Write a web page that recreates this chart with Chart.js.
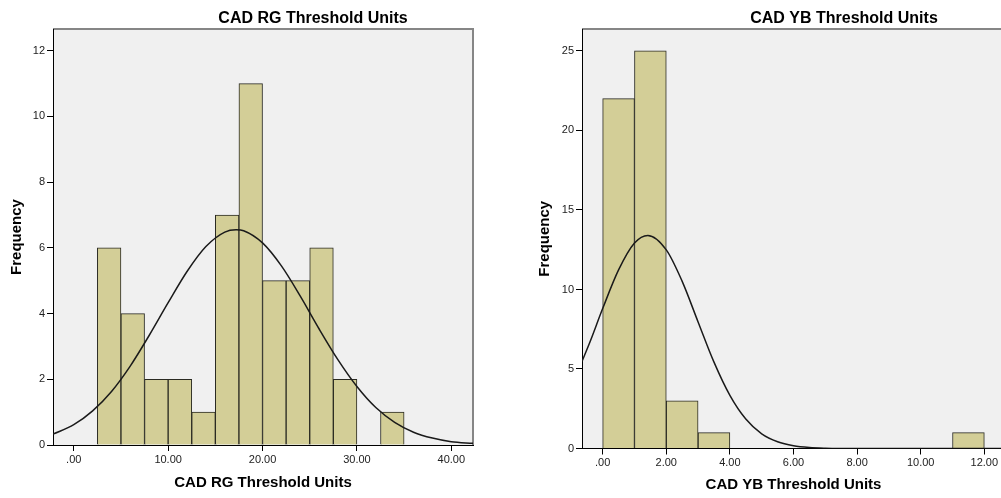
<!DOCTYPE html>
<html>
<head>
<meta charset="utf-8">
<script src="https://cdn.jsdelivr.net/npm/chart.js@4.4.1/dist/chart.umd.min.js"></script>
<style>
  html, body { margin: 0; padding: 0; background: #ffffff; width: 1001px; height: 498px; overflow: hidden; }
  #wrap { position: relative; width: 1001px; height: 498px; overflow: hidden; }
  #c1 { position: absolute; left: 0; top: 0; }
  #c2 { position: absolute; left: 529px; top: 0; }
</style>
</head>
<body>
<div id="wrap">
  <canvas id="c1" width="480" height="498"></canvas>
  <canvas id="c2" width="481" height="498"></canvas>
</div>
<script>
// ---------- Data: CAD RG Threshold Units ----------
const rgTitle = 'CAD RG Threshold Units';
const rgBinCenters = [3.75, 6.25, 8.75, 11.25, 13.75, 16.25, 18.75, 21.25, 23.75, 26.25, 28.75, 31.25, 33.75];
const rgCounts     = [6, 4, 2, 2, 1, 7, 11, 5, 5, 6, 2, 0, 1];
const rgCurveX = [-2.2, 0, 2, 4, 6, 8, 10, 12, 14, 16, 17.2, 18, 20, 22, 24, 26, 28, 30, 32, 34, 36, 38, 40, 42.3];
const rgCurveY = [0.33, 0.62, 1.04, 1.63, 2.41, 3.34, 4.33, 5.28, 6.04, 6.48, 6.55, 6.52, 6.15, 5.45, 4.53, 3.53, 2.59, 1.78, 1.14, 0.69, 0.39, 0.21, 0.10, 0.05];
const rgXTickValues = [0, 10, 20, 30, 40];
const rgXTickLabels = ['.00', '10.00', '20.00', '30.00', '40.00'];

// ---------- Data: CAD YB Threshold Units ----------
const ybTitle = 'CAD YB Threshold Units';
const ybBinCenters = [0.5, 1.5, 2.5, 3.5, 11.5];
const ybCounts     = [22, 25, 3, 1, 1];
const ybCurveX = [-0.65, -0.4, 0, 0.5, 1, 1.42, 2, 2.5, 3, 3.5, 4, 4.5, 5, 5.5, 6, 6.5, 7, 8, 12.65];
const ybCurveY = [5.48, 6.7, 8.80, 11.23, 12.92, 13.4, 12.49, 10.51, 7.96, 5.43, 3.34, 1.85, 0.92, 0.42, 0.17, 0.06, 0.02, 0, 0];
const ybXTickValues = [0, 2, 4, 6, 8, 10, 12];
const ybXTickLabels = ['.00', '2.00', '4.00', '6.00', '8.00', '10.00', '12.00'];

const yAxisTitle = 'Frequency';

// ---------- Styling ----------
const FONT = "'Liberation Sans', Arial, sans-serif";
const BAR_FILL = '#D3CE97';
const BAR_EDGE = '#2a2a22';
const PLOT_BG = '#F0F0F0';

const plotFrame = {
  id: 'plotFrame',
  beforeDraw(chart) {
    const {ctx, chartArea: a} = chart;
    ctx.save();
    ctx.fillStyle = PLOT_BG;
    ctx.fillRect(a.left, a.top, a.right - a.left, a.bottom - a.top);
    ctx.strokeStyle = '#868686';
    ctx.lineWidth = 2;
    ctx.beginPath();
    ctx.moveTo(a.left, a.top);
    ctx.lineTo(a.right, a.top);
    ctx.lineTo(a.right, a.bottom);
    ctx.stroke();
    ctx.restore();
  }
};

const topTitle = {
  id: 'topTitle',
  afterDraw(chart, args, opts) {
    const {ctx, chartArea: a} = chart;
    ctx.save();
    ctx.font = 'bold 16px ' + FONT;
    ctx.fillStyle = '#000';
    ctx.textAlign = 'center';
    ctx.textBaseline = 'alphabetic';
    ctx.fillText(opts.text, a.left + opts.offset, opts.baseline);
    ctx.restore();
  }
};

function makeChart(canvasId, cfg) {
  const bars = cfg.centers.map((c, i) => ({x: c, y: cfg.counts[i]}));
  const curve = cfg.curveX.map((c, i) => ({x: c, y: cfg.curveY[i]}));
  return new Chart(document.getElementById(canvasId), {
    type: 'bar',
    data: {
      datasets: [
        {
          type: 'line',
          data: curve,
          borderColor: '#1a1a1a',
          borderWidth: 1.5,
          pointRadius: 0,
          fill: false,
          cubicInterpolationMode: 'monotone',
          order: 1
        },
        {
          type: 'bar',
          data: bars,
          backgroundColor: BAR_FILL,
          borderColor: BAR_EDGE,
          borderWidth: 1,
          borderSkipped: 'start',
          barPercentage: 1,
          categoryPercentage: 1,
          order: 2
        }
      ]
    },
    options: {
      responsive: false,
      animation: false,
      events: [],
      layout: { padding: { top: 29, right: cfg.padRight, left: 0, bottom: 0 } },
      plugins: {
        legend: { display: false },
        tooltip: { enabled: false },
        title: { display: false },
        topTitle: { text: cfg.title, offset: cfg.titleOffset, baseline: 23 }
      },
      scales: {
        x: {
          type: 'linear',
          offset: false,
          min: cfg.xMin,
          max: cfg.xMax,
          afterFit: (s) => { s.height = cfg.xAxisHeight; },
          grid: { display: true, offset: false, drawOnChartArea: false, drawTicks: true, tickLength: 6, color: '#000', lineWidth: 1 },
          border: { display: true, color: '#000', width: 1 },
          ticks: {
            stepSize: cfg.xStep,
            includeBounds: false,
            autoSkip: false,
            maxRotation: 0,
            padding: 2,
            color: '#222',
            font: { family: FONT, size: 11 },
            callback: (v) => {
              const i = cfg.xTickValues.indexOf(v);
              return i >= 0 ? cfg.xTickLabels[i] : '';
            }
          },
          title: {
            display: true,
            text: cfg.title,
            color: '#000',
            font: { family: FONT, size: 15, weight: 'bold' },
            padding: { top: 0, bottom: cfg.xTitlePadBottom }
          }
        },
        y: {
          type: 'linear',
          min: 0,
          max: cfg.yMax,
          afterFit: (s) => { s.width = 53; },
          grid: { display: true, drawOnChartArea: false, drawTicks: true, tickLength: 6, color: '#000', lineWidth: 1 },
          border: { display: true, color: '#000', width: 1 },
          ticks: {
            stepSize: cfg.yStep,
            includeBounds: false,
            padding: 2,
            color: '#222',
            font: { family: FONT, size: 11 }
          },
          title: {
            display: true,
            text: yAxisTitle,
            color: '#000',
            font: { family: FONT, size: 15, weight: 'bold' },
            padding: { top: cfg.yTitlePadTop, bottom: 0 }
          }
        }
      }
    },
    plugins: [plotFrame, topTitle]
  });
}

makeChart('c1', {
  title: rgTitle, centers: rgBinCenters, counts: rgCounts,
  curveX: rgCurveX, curveY: rgCurveY,
  xTickValues: rgXTickValues, xTickLabels: rgXTickLabels,
  xMin: -2.2, xMax: 42.3, xStep: 10, yMax: 12.66, yStep: 2,
  padRight: 7, xAxisHeight: 53, xTitlePadBottom: 6, yTitlePadTop: 8, titleOffset: 260
});

makeChart('c2', {
  title: ybTitle, centers: ybBinCenters, counts: ybCounts,
  curveX: ybCurveX, curveY: ybCurveY,
  xTickValues: ybXTickValues, xTickLabels: ybXTickLabels,
  xMin: -0.65, xMax: 12.65, xStep: 2, yMax: 26.38, yStep: 5,
  padRight: 5, xAxisHeight: 49.5, xTitlePadBottom: 4, yTitlePadTop: 7, titleOffset: 262
});
</script>
</body>
</html>
